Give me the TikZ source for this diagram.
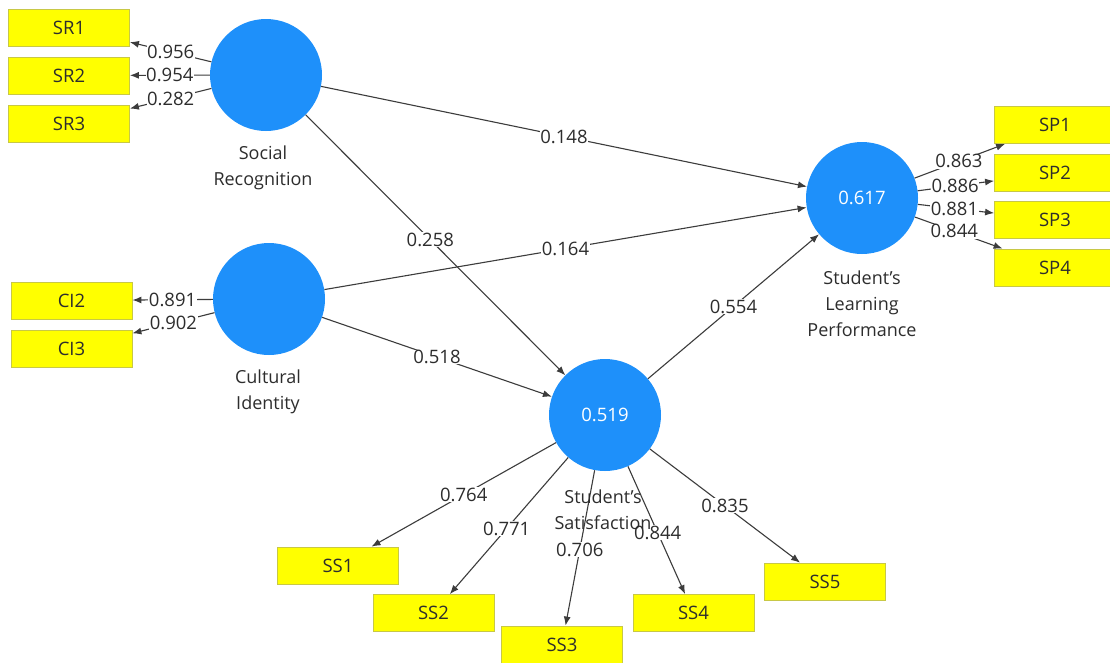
\documentclass[tikz,border=0pt]{standalone}
\usepackage{fontspec}
\setmainfont{Open Sans}
\usetikzlibrary{arrows.meta}
\definecolor{nodeblue}{RGB}{30,144,250}
\definecolor{boxyellow}{RGB}{255,255,0}
\definecolor{boxedge}{RGB}{200,200,70}
\definecolor{txt}{RGB}{45,45,45}
\definecolor{edgec}{RGB}{60,60,60}
\begin{document}
\begin{tikzpicture}[x=1pt,y=-1pt,
 lv/.style={circle,fill=nodeblue,minimum size=112pt,inner sep=0pt,text=white,font=\fontsize{18.5}{22}\selectfont},
 ind/.style={rectangle,fill=boxyellow,draw=boxedge,line width=0.8pt,minimum width=121pt,minimum height=37pt,inner sep=0pt,font=\fontsize{18.5}{22}\selectfont,text=txt},
 lbl/.style={align=center,font=\fontsize{18}{26}\selectfont,text=txt},
 coef/.style={fill=white,inner sep=0.5pt,font=\fontsize{18.5}{22}\selectfont,text=txt},
 con/.style={draw=edgec,line width=1.1pt,-{Latex[length=9pt,width=7pt]}}]
\useasboundingbox[fill=white] (0,0) rectangle (1110,662);

% latent variables
\node[lv] (sr) at (266,75) {};
\node[lv] (ci) at (269,299) {};
\node[lv] (slp) at (862,198) {0.617};
\node[lv] (ss) at (605,415) {0.519};

% indicators
\node[ind] (sr1) at (69,27.5) {SR1};
\node[ind] (sr2) at (69,75.5) {SR2};
\node[ind] (sr3) at (69,123.5) {SR3};
\node[ind] (ci2) at (71.5,300.5) {CI2};
\node[ind] (ci3) at (71.5,348.5) {CI3};
\node[ind] (sp1) at (1055,125) {SP1};
\node[ind] (sp2) at (1055,173) {SP2};
\node[ind] (sp3) at (1055,220) {SP3};
\node[ind] (sp4) at (1055,267.5) {SP4};
\node[ind] (ss1) at (338,565.5) {SS1};
\node[ind] (ss2) at (433.5,613) {SS2};
\node[ind] (ss3) at (562,644.5) {SS3};
\node[ind] (ss4) at (693.5,613) {SS4};
\node[ind] (ss5) at (825,581.5) {SS5};

% structural paths
\draw[con] (sr) -- node[coef,pos=0.5] {0.148} (slp);
\draw[con] (sr) -- node[coef,pos=0.48] {0.258} (ss);
\draw[con] (ci) -- node[coef,pos=0.5] {0.164} (slp);
\draw[con] (ci) -- node[coef,pos=0.5] {0.518} (ss);
\draw[con] (ss) -- node[coef,pos=0.5] {0.554} (slp);

% outer loadings
\draw[con] (sr) -- node[coef,pos=0.5] {0.956} (sr1);
\draw[con] (sr) -- node[coef,pos=0.5] {0.954} (sr2);
\draw[con] (sr) -- node[coef,pos=0.5] {0.282} (sr3);
\draw[con] (ci) -- node[coef,pos=0.5] {0.891} (ci2);
\draw[con] (ci) -- node[coef,pos=0.5] {0.902} (ci3);
\draw[con] (slp) -- node[coef,pos=0.49] {0.863} (sp1);
\draw[con] (slp) -- node[coef,pos=0.49] {0.886} (sp2);
\draw[con] (slp) -- node[coef,pos=0.48] {0.881} (sp3);
\draw[con] (slp) -- node[coef,pos=0.45] {0.844} (sp4);
\draw[con] (ss) -- node[coef,pos=0.5] {0.764} (ss1);
\draw[con] (ss) -- node[coef,pos=0.52] {0.771} (ss2);
\draw[con] (ss) -- node[coef,pos=0.51] {0.706} (ss3);
\draw[con] (ss) -- node[coef,pos=0.52] {0.844} (ss4);
\draw[con] (ss) -- node[coef,pos=0.5] {0.835} (ss5);

% names
\node[lbl] (srl) at (263,168) {Social\\Recognition};
\node[lbl] (cil) at (268,392) {Cultural\\Identity};
\node[lbl] (slpl) at (862,304) {Student’s\\Learning\\Performance};
\node[lbl] (ssl) at (603,510) {Student’s\\Satisfaction};
\end{tikzpicture}
\end{document}
